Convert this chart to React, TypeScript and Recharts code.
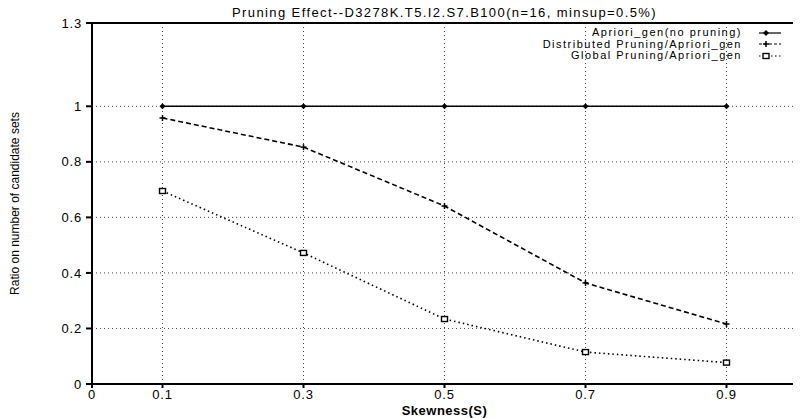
import React from "react";
import {
  LineChart,
  Line,
  XAxis,
  YAxis,
  CartesianGrid,
  ReferenceLine,
  Label,
} from "recharts";

// Skewness levels and the candidate-set ratios for each generation method
const skewness = [0.1, 0.3, 0.5, 0.7, 0.9];
const aprioriGen = [1, 1, 1, 1, 1];
const distributedPruning = [0.958, 0.853, 0.641, 0.364, 0.216];
const globalPruning = [0.695, 0.472, 0.234, 0.115, 0.077];

const xTicks = [0, 0.1, 0.3, 0.5, 0.7, 0.9, 1];
const yTicks = [0, 0.2, 0.4, 0.6, 0.8, 1, 1.3];

const seriesNames = [
  "Apriori_gen(no pruning)",
  "Distributed Pruning/Apriori_gen",
  "Global Pruning/Apriori_gen",
];

const titleText = "Pruning Effect--D3278K.T5.I2.S7.B100(n=16, minsup=0.5%)";

const data = skewness.map((s, i) => ({
  s,
  apriori: aprioriGen[i],
  distributed: distributedPruning[i],
  global: globalPruning[i],
}));

const FONT = "'Liberation Sans', Arial, Helvetica, sans-serif";

const Diamond = (props: any) => {
  const { cx, cy, r = 4 } = props;
  if (cx == null || cy == null) return null;
  return (
    <polygon
      points={`${cx},${cy - r} ${cx + r},${cy} ${cx},${cy + r} ${cx - r},${cy}`}
      fill="#000"
    />
  );
};

const Plus = (props: any) => {
  const { cx, cy, r = 4 } = props;
  if (cx == null || cy == null) return null;
  return (
    <g stroke="#000" strokeWidth={1.5}>
      <line x1={cx - r} y1={cy} x2={cx + r} y2={cy} />
      <line x1={cx} y1={cy - r} x2={cx} y2={cy + r} />
    </g>
  );
};

const Square = (props: any) => {
  const { cx, cy, r = 4 } = props;
  if (cx == null || cy == null) return null;
  return (
    <rect
      x={cx - r}
      y={cy - r + 0.5}
      width={2 * r}
      height={2 * r - 1}
      fill="#fff"
      stroke="#000"
      strokeWidth={1.4}
    />
  );
};

const legendStyles = [
  { dash: undefined, marker: "diamond" },
  { dash: "3 2", marker: "plus" },
  { dash: "1.5 2.5", marker: "square" },
];

const ROW = 11.5;

// Key in the upper right corner of the plot
const ChartKey = () => (
  <div
    style={{
      position: "absolute",
      top: 27,
      right: 19,
      fontFamily: FONT,
      fontSize: 11,
      letterSpacing: 1.5,
      color: "#000",
      zIndex: 2,
    }}
  >
    {seriesNames.map((name, i) => (
      <div
        key={name}
        style={{ display: "flex", justifyContent: "flex-end", alignItems: "center", height: ROW }}
      >
        <span
          style={{
            display: "block",
            lineHeight: `${ROW}px`,
            height: ROW,
            whiteSpace: "nowrap",
          }}
        >
          {name}
        </span>
        <svg width={24} height={10} style={{ marginLeft: 16, display: "block" }}>
          <line
            x1={1}
            y1={5}
            x2={23}
            y2={5}
            stroke="#000"
            strokeWidth={1.2}
            strokeDasharray={legendStyles[i].dash}
          />
          {legendStyles[i].marker === "diamond" && <Diamond cx={8} cy={5} r={3} />}
          {legendStyles[i].marker === "plus" && <Plus cx={8} cy={5} r={3} />}
          {legendStyles[i].marker === "square" && <Square cx={8} cy={5} r={3} />}
        </svg>
      </div>
    ))}
  </div>
);

const tickStyle = { fontFamily: FONT, fontSize: 13, fill: "#000", letterSpacing: 0.8 };

export default function App() {
  return (
    <div
      style={{
        position: "relative",
        width: 801,
        height: 418,
        margin: "-8px 0 0 -8px",
        background: "#fff",
      }}
    >
      <div
        style={{
          position: "absolute",
          top: 5,
          left: 92,
          width: 705,
          textAlign: "center",
          fontFamily: FONT,
          fontSize: 13,
          lineHeight: "15px",
          letterSpacing: 1.4,
          color: "#000",
          whiteSpace: "nowrap",
          zIndex: 2,
        }}
      >
        {titleText}
      </div>
      <ChartKey />
      <LineChart
        width={801}
        height={418}
        data={data}
        margin={{ top: 23, right: 4, bottom: 0, left: 0 }}
      >
        <CartesianGrid stroke="#444" strokeDasharray="1 3" strokeWidth={1} />
        <XAxis
          type="number"
          dataKey="s"
          domain={[0, 1]}
          ticks={xTicks}
          interval={0}
          height={34}
          tickSize={4}
          tickMargin={2}
          stroke="#000"
          strokeWidth={2}
          tick={tickStyle}
          tickFormatter={(v: number) => String(v)}
        >
          <Label
            value="Skewness(S)"
            position="insideBottom"
            offset={3}
            style={{ fontFamily: FONT, fontSize: 13, fontWeight: "bold", fill: "#000", letterSpacing: 0.5 }}
          />
        </XAxis>
        <YAxis
          type="number"
          domain={[0, 1.3]}
          ticks={yTicks}
          interval={0}
          width={92}
          tickSize={6}
          tickMargin={4}
          stroke="#000"
          strokeWidth={2}
          tick={tickStyle}
          tickFormatter={(v: number) => String(v)}
        >
          <Label
            value="Ratio on number of candidate sets"
            angle={-90}
            position="insideLeft"
            offset={15}
            style={{
              fontFamily: "'Liberation Sans Narrow', 'Arial Narrow', " + FONT,
              fontSize: 12,
              fill: "#000",
              textAnchor: "middle",
            }}
          />
        </YAxis>
        <ReferenceLine y={1.3} stroke="#000" strokeWidth={2} />
        <ReferenceLine x={1} stroke="#000" strokeWidth={2} />
        <Line
          type="linear"
          dataKey="apriori"
          name={seriesNames[0]}
          stroke="#000"
          strokeWidth={1.5}
          dot={<Diamond />}
          isAnimationActive={false}
        />
        <Line
          type="linear"
          dataKey="distributed"
          name={seriesNames[1]}
          stroke="#000"
          strokeWidth={1.6}
          strokeDasharray="5 3"
          dot={<Plus />}
          isAnimationActive={false}
        />
        <Line
          type="linear"
          dataKey="global"
          name={seriesNames[2]}
          stroke="#000"
          strokeWidth={1.6}
          strokeDasharray="1.5 3"
          dot={<Square />}
          isAnimationActive={false}
        />
      </LineChart>
    </div>
  );
}
